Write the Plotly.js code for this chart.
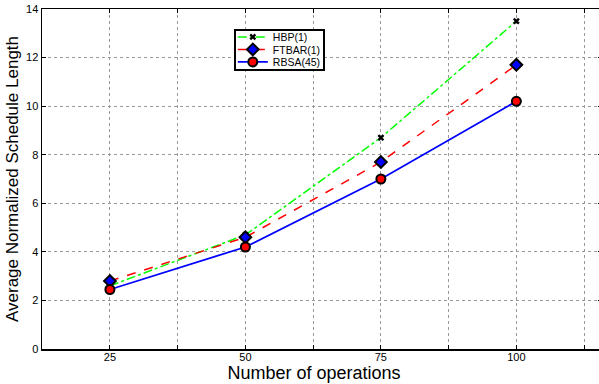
<!DOCTYPE html>
<html><head><meta charset="utf-8">
<script src="https://cdn.plot.ly/plotly-3.0.1.min.js"></script>
<style>html,body{margin:0;background:#fff;overflow:hidden}#c{width:602px;height:384px}</style>
</head><body><div id="c"></div>
<script>
const ops = [25, 50, 75, 100];
const hbp = [2.6, 4.7, 8.7, 13.5];
const ftbar = [2.8, 4.6, 7.7, 11.7];
const rbsa = [2.45, 4.2, 7.0, 10.2];
const xTickVals = [25, 37.5, 50, 62.5, 75, 87.5, 100, 112.5];
const xTickText = ['25', '', '50', '', '75', '', '100', ''];
const yTickVals = [0, 2, 4, 6, 8, 10, 12, 14];

const traces = [
  {x: ops, y: hbp, name: 'HBP(1)', mode: 'lines+markers',
   line: {color: '#00ff00', dash: 'dashdot', width: 1.5},
   marker: {symbol: 'x', size: 6, color: '#000'}},
  {x: ops, y: ftbar, name: 'FTBAR(1)', mode: 'lines+markers',
   line: {color: '#ff0000', dash: 'dash', width: 1.5},
   marker: {symbol: 'diamond', size: 9, color: '#0000ff', line: {color: '#000', width: 2}}},
  {x: ops, y: rbsa, name: 'RBSA(45)', mode: 'lines+markers',
   line: {color: '#0000ff', width: 1.8},
   marker: {symbol: 'circle', size: 9, color: '#ff0000', line: {color: '#000', width: 2}}}
];

const axisCommon = {
  showline: true, linecolor: '#000', linewidth: 1.5, mirror: 'ticks',
  ticks: 'inside', ticklen: 4, tickcolor: '#000', tickwidth: 1,
  showgrid: true, gridcolor: '#999', griddash: 'dot', gridwidth: 1,
  zeroline: false, tickfont: {family: 'Liberation Sans, Arial', size: 11, color: '#000'}
};

const layout = {
  width: 602, height: 384,
  margin: {l: 42, r: 0, t: 9, b: 35},
  paper_bgcolor: '#fff', plot_bgcolor: '#fff',
  showlegend: true,
  legend: {x: 0.3425, y: 0.94, xanchor: 'left', yanchor: 'top',
    bgcolor: '#fff', bordercolor: '#000', borderwidth: 2,
    font: {family: 'Liberation Sans, Arial', size: 10.5, color: '#000'},
    tracegroupgap: 0, itemwidth: 30},
  xaxis: Object.assign({}, axisCommon, {
    range: [12.47, 115.8], tickmode: 'array', tickvals: xTickVals, ticktext: xTickText,
    ticklabelstandoff: -3,
    title: {text: 'Number of operations', standoff: 0,
      font: {family: 'Liberation Sans, Arial', size: 18, color: '#000'}}
  }),
  yaxis: Object.assign({}, axisCommon, {
    range: [0, 14], tickmode: 'array', tickvals: yTickVals,
    title: {text: 'Average Normalized Schedule Length', standoff: 3,
      font: {family: 'Liberation Sans, Arial', size: 17, color: '#000'}}
  })
};

Plotly.newPlot('c', traces, layout, {displayModeBar: false, staticPlot: true}).then(function (gd) {
  // tighten legend row spacing to match the compact reference legend
  const leg = gd.querySelector('.legend');
  if (leg) {
    const items = leg.querySelectorAll('.traces');
    const first = 7.5, step = 12.5;
    items.forEach(function (el, i) {
      el.setAttribute('transform', 'translate(-1,' + (first + i * step) + ')');
    });
    const bg = leg.querySelector('rect.bg');
    if (bg) {
      bg.setAttribute('height', first * 2 + step * (items.length - 1));
      bg.setAttribute('width', 89);
    }
  }
  // reference x title is centred slightly left of the plot-area centre
  const xt = gd.querySelector('.g-xtitle text');
  if (xt) xt.setAttribute('x', 314);
});
</script></body></html>
